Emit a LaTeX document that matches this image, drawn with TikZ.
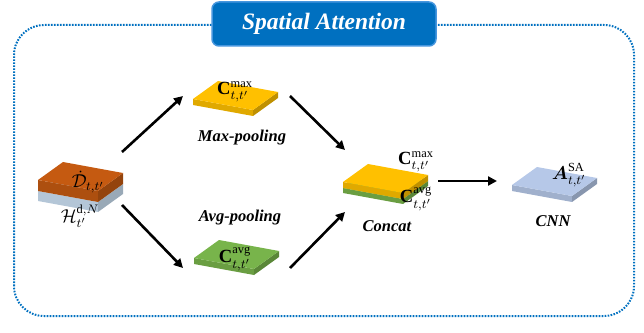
\documentclass[tikz,border=0pt]{standalone}
\usepackage{amsmath, amssymb}
\usepackage{fontspec}
\setmainfont{Liberation Serif}
\usepackage{tikz}
\usetikzlibrary{arrows.meta, calc}

\definecolor{saBlue}{RGB}{0,112,192}
\definecolor{saEdge}{RGB}{70,150,222}
\definecolor{dOrange}{RGB}{197,90,17}
\definecolor{hBlue}{RGB}{204,225,244}
\definecolor{mYellow}{RGB}{255,192,0}
\definecolor{aGreen}{RGB}{120,180,75}
\definecolor{sLilac}{RGB}{182,200,232}

% flat slab: left corner (#1,#2), thickness #3, colour #4
\newcommand{\slab}[4]{%
  \fill[#4!88!black] (#1,#2) -- ++(60,-11) -- ++(0,-#3) -- ++(-60,11) -- cycle;
  \fill[#4!75!black] (#1+60,#2-11) -- ++(25,18) -- ++(0,-#3) -- ++(-25,-18) -- cycle;
  \fill[#4] (#1,#2) -- ++(25,18) -- ++(60,-11) -- ++(-25,-18) -- cycle;
}

\begin{document}
\begin{tikzpicture}[
    x=1pt, y=1pt,
    arrow/.style={-{Triangle[length=9pt,width=9pt]}, line width=2.6pt},
    frame/.style={saBlue, line width=2pt, dash pattern=on 1.6pt off 1.4pt, rounded corners=30pt},
    titlebox/.style={rectangle, rounded corners=7pt, fill=saBlue, draw=saEdge, line width=1.5pt,
        minimum width=224pt, minimum height=44pt, text=white, font=\fontsize{23.5}{26}\selectfont\bfseries\itshape},
    caption/.style={font=\fontsize{16.5}{19}\selectfont\bfseries\itshape},
    sym/.style={font=\large, inner sep=0pt, scale=1.55, transform shape}
]
\useasboundingbox (0,0) rectangle (644,332);

% outer frame and title
\draw[frame] (14,16) rectangle (634,307);
\node[titlebox] (title) at (324,308) {Spatial Attention};

% input block
\slab{38}{141}{10}{hBlue}
\slab{38}{152}{11}{dOrange}
\node[sym] (dlab) at (88,150) {$\dot{\mathcal{D}}_{t,t'}$};
\node[sym] (hlab) at (80,116) {$\mathcal{H}^{\mathrm{d},N}_{t'}$};

% pooling blocks
\slab{193}{233}{6}{mYellow}
\node[sym] (maxlab) at (235,240) {$\mathbf{C}^{\mathrm{max}}_{t,t'}$};
\node[caption] (maxcap) at (242,194) {Max-pooling};

\slab{194}{74}{6}{aGreen}
\node[sym] (avglab) at (235,73) {$\mathbf{C}^{\mathrm{avg}}_{t,t'}$};
\node[caption] (avgcap) at (240,114) {Avg-pooling};

% concatenated block
\slab{343}{144}{5}{aGreen}
\slab{343}{150}{6}{mYellow}
\node[sym] (catmax) at (416,170) {$\mathbf{C}^{\mathrm{max}}_{t,t'}$};
\node[sym] (catavg) at (416,133) {$\mathbf{C}^{\mathrm{avg}}_{t,t'}$};
\node[caption] (catcap) at (387,106) {Concat};

% output block
\slab{512}{147}{6}{sLilac}
\node[sym] (salab) at (569,157) {$\boldsymbol{A}^{\mathrm{SA}}_{t,t'}$};
\node[caption] (cnncap) at (553,111) {CNN};

% arrow ends
\coordinate (dup) at (122,180);
\coordinate (ddown) at (122,127);
\coordinate (maxin) at (183,236);
\coordinate (maxout) at (290,236);
\coordinate (avgin) at (183,64);
\coordinate (avgout) at (290,64);
\coordinate (catin1) at (345,182);
\coordinate (catin2) at (345,120);
\coordinate (catout) at (438,151);
\coordinate (sain) at (497,151);

\draw[arrow] (dup) -- (maxin);
\draw[arrow] (ddown) -- (avgin);
\draw[arrow] (maxout) -- (catin1);
\draw[arrow] (avgout) -- (catin2);
\draw[arrow] (catout) -- (sain);

\end{tikzpicture}
\end{document}
